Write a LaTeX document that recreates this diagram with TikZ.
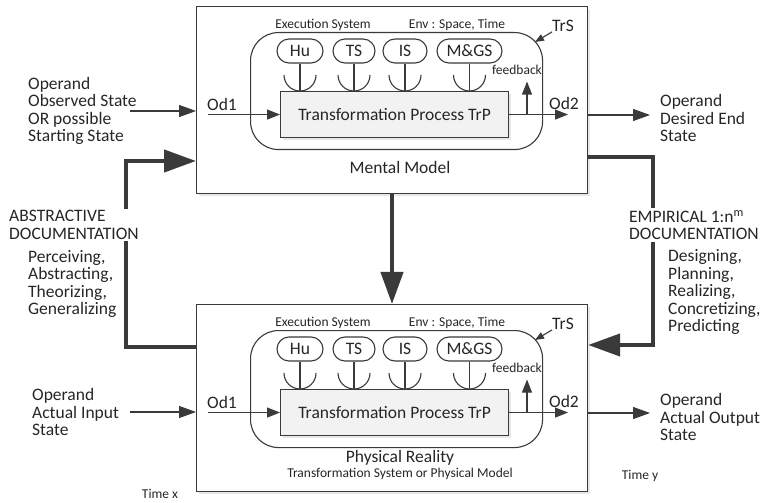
\documentclass[tikz,border=0pt]{standalone}
\usepackage{fontspec}
\setmainfont{Carlito}
\usetikzlibrary{arrows.meta,shadows}
\definecolor{lc}{HTML}{3A3A3A}
\definecolor{tc}{HTML}{262626}
\definecolor{boxfill}{HTML}{F2F2F2}
\newcommand\bigf{\fontsize{17.5bp}{17.5bp}\selectfont}
\newcommand\smallf{\fontsize{13.5bp}{15bp}\selectfont}
\tikzset{
  ln/.style={draw=lc, line width=1.1bp},
  shad/.style={drop shadow={opacity=0.18, shadow xshift=2.5bp, shadow yshift=-2.5bp}},
  outerbox/.style={ln, fill=white, shad, anchor=north west, inner sep=0},
  trsbox/.style={ln, fill=white, rounded corners=28bp, anchor=north west, inner sep=0},
  trpbox/.style={ln, fill=boxfill, shad, anchor=north west, inner sep=0, text=tc, font=\bigf},
  pill/.style={ln, fill=white, rounded corners=12bp, minimum height=24bp, inner sep=0, text=tc, font=\bigf},
  bigtxt/.style={text=tc, font=\bigf, inner sep=0, align=left},
  smalltxt/.style={text=tc, font=\smallf, inner sep=0},
  thinarrow/.style={ln, -{Triangle[length=13bp,width=10bp]}},
  extarrow/.style={ln, -{Triangle[length=17bp,width=12bp]}},
  tinyarrow/.style={ln, -{Triangle[length=9bp,width=7bp]}},
  bigarrow/.style={draw=lc, line width=4.2bp, line join=miter, -{Triangle[length=32bp,width=22bp]}},
}
\newcommand\onemodel{%
  \node[outerbox, minimum width=391bp, minimum height=187bp] (box) at (196,6) {};
  \node[trsbox, minimum width=292bp, minimum height=117bp] (trs) at (250,32) {};
  \node[trpbox, minimum width=228bp, minimum height=46bp] (trp) at (280,91) {Transformation Process TrP};
  \node[pill, minimum width=46bp] (hu) at (300,51) {Hu};
  \node[pill, minimum width=42bp] (ts) at (354,51) {TS};
  \node[pill, minimum width=44bp] (is) at (405,51) {IS};
  \node[pill, minimum width=65bp] (mgs) at (469.5,51) {M\&GS};
  \foreach \p in {hu,ts,is,mgs} {
    \draw[ln] (\p.south) -- (\p.south |- trp.north);
    \draw[ln] (\p.south |- trp.north) ++(-16,-16) arc[start angle=180,end angle=360,radius=16bp];
  }
  \node[smalltxt] (exec) at (323,25) {Execution System};
  \node[smalltxt] (env) at (457,25) {Env : Space, Time};
  \node[bigtxt] (trslbl) at (563,26) {TrS};
  \coordinate (trscorner) at (535,42);
  \draw[tinyarrow] (trslbl.south west) -- (trscorner);
  \coordinate (odin) at (trp.west -| 208,0);
  \draw[thinarrow] (odin) -- (trp.west);
  \node[bigtxt] (od1) at (222,104) {Od1};
  \coordinate (odout) at (trp.east -| 568,0);
  \draw[thinarrow] (trp.east) -- (odout);
  \node[bigtxt] (od2) at (564,103) {Od2};
  \coordinate (fb) at (trp.east -| 527,0);
  \draw[thinarrow] (fb) -- ++(0,-33);
  \node[smalltxt] (fblbl) at (517,70) {feedback};
}
\begin{document}
\begin{tikzpicture}[x=1bp,y=-1bp]
\useasboundingbox (0,0) rectangle (768,503);
\begin{scope}[name prefix=t-]
  \onemodel
\end{scope}
\begin{scope}[shift={(0,298)}, name prefix=b-]
  \onemodel
\end{scope}
\node[bigtxt] (mental) at (400,167) {Mental Model};
\node[bigtxt] (physical) at (400,458) {Physical Reality};
\node[smalltxt] (physsub) at (400,474) {Transformation System or Physical Model};

% thick documentation arrows
\coordinate (absB) at (b-box.west |- 0,347);
\coordinate (absT) at (t-box.west |- 0,161);
\draw[bigarrow] (absB) -| (126,161) -- (absT);
\coordinate (empT) at (t-box.east |- 0,157);
\coordinate (empB) at (b-box.east |- 0,345);
\draw[bigarrow] (empT) -| (653,345) -- (empB);
\draw[bigarrow] (t-box.south -| 392,0) -- (b-box.north -| 392,0);

% external operand arrows
\node[bigtxt, anchor=west] (obs) at (28,111) {Operand\\Observed State\\OR possible\\Starting State};
\coordinate (obsA) at (130,111);
\draw[extarrow] (obsA) -- (obsA -| t-box.west);
\node[bigtxt, anchor=west] (des) at (660,118) {Operand\\Desired End\\State};
\coordinate (desA) at (650,115);
\draw[extarrow] (desA -| t-box.east) -- (desA);
\node[bigtxt, anchor=west] (inp) at (32,412) {Operand\\Actual Input\\State};
\coordinate (inpA) at (130,412);
\draw[extarrow] (inpA) -- (inpA -| b-box.west);
\node[bigtxt, anchor=west] (outp) at (660,417) {Operand\\Actual Output\\State};
\coordinate (outA) at (650,413);
\draw[extarrow] (outA -| b-box.east) -- (outA);

% documentation labels
\node[bigtxt, anchor=west, fill=white, inner ysep=2bp] (abs) at (9,225) {ABSTRACTIVE\\DOCUMENTATION};
\node[bigtxt, anchor=west] (absverbs) at (28,284) {Perceiving,\\Abstracting,\\Theorizing,\\Generalizing};
\node[bigtxt, anchor=west, fill=white, inner ysep=2bp] (emp) at (629,225) {EMPIRICAL 1:n\textsuperscript{m}\\DOCUMENTATION};
\node[bigtxt, anchor=west] (empverbs) at (668,292) {Designing,\\Planning,\\Realizing,\\Concretizing,\\Predicting};

\node[smalltxt] (timex) at (160,494) {Time x};
\node[smalltxt] (timey) at (640,476) {Time y};
\end{tikzpicture}
\end{document}
